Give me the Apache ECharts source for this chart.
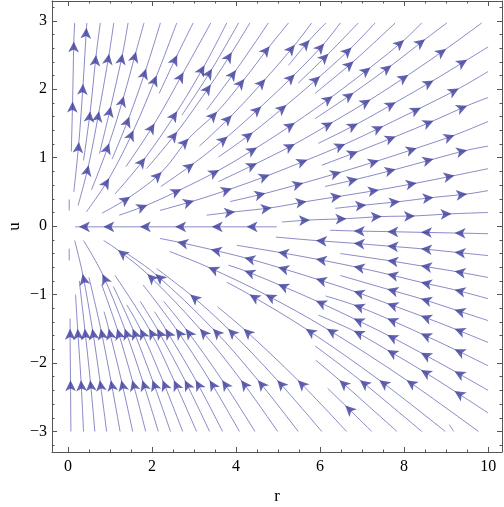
<!DOCTYPE html>
<html>
<head>
<meta charset="utf-8">
<script src="https://cdn.jsdelivr.net/npm/echarts@6/dist/echarts.min.js"></script>
<style>
  html, body { margin: 0; padding: 0; background: #fff; }
  #chart { width: 504px; height: 507px; }
</style>
</head>
<body>
<div id="chart"></div>
<script>
// 刻度
const xMajor = [0, 2, 4, 6, 8, 10];
const xMinor = [0.5, 1, 1.5, 2.5, 3, 3.5, 4.5, 5, 5.5, 6.5, 7, 7.5, 8.5, 9, 9.5];
const yMajor = [-3, -2, -1, 0, 1, 2, 3];
const yMinor = [-3.2, -2.8, -2.6, -2.4, -2.2, -1.8, -1.6, -1.4, -1.2, -0.8, -0.6, -0.4, -0.2,
                0.2, 0.4, 0.6, 0.8, 1.2, 1.4, 1.6, 1.8, 2.2, 2.4, 2.6, 2.8, 3.2];

// 上半平面流线 [r, u]，按流动方向排列
const upperLines = [
  [[0.03, 0.23], [0.03, 0.39]],
  [[0.08, 1.09], [0.11, 1.82], [0.14, 2.7], [0.16, 2.97]],
  [[0.14, 0.50], [0.26, 1.23], [0.36, 2.08], [0.44, 2.9], [0.45, 2.97]],
  [[0.37, 0.96], [0.53, 1.68], [0.67, 2.5], [0.77, 2.97]],
  [[0.24, 0.30], [0.49, 0.89], [0.74, 1.68], [0.98, 2.52], [1.09, 2.97]],
  [[0.75, 1.06], [1.02, 1.75], [1.30, 2.52], [1.43, 2.97]],
  [[0.56, 0.53], [0.98, 1.21], [1.33, 1.9], [1.62, 2.55], [1.81, 2.97]],
  [[1.05, 0.98], [1.46, 1.6], [1.86, 2.3], [2.20, 2.97]],
  [[0.44, 0.21], [0.98, 0.70], [1.56, 1.4], [2.11, 2.2], [2.59, 2.97]],
  [[2.17, 1.94], [2.6, 2.5], [2.98, 2.97]],
  [[1.38, 0.87], [2.06, 1.5], [2.75, 2.25], [3.40, 2.97]],
  [[1.12, 0.47], [1.84, 1.0], [2.6, 1.68], [3.25, 2.35], [3.78, 2.97]],
  [[2.71, 1.62], [3.43, 2.3], [4.06, 2.97]],
  [[1.87, 0.84], [2.6, 1.38], [3.4, 2.07], [3.9, 2.54], [4.33, 2.97]],
  [[3.3, 1.7], [4.0, 2.28], [4.77, 2.97]],
  [[0.81, 0.19], [1.48, 0.43], [2.23, 0.79], [2.87, 1.28], [3.55, 1.67], [4.2, 2.15], [4.8, 2.63], [5.25, 2.97]],
  [[3.13, 1.17], [3.9, 1.62], [4.7, 2.15], [5.4, 2.65], [5.80, 2.97]],
  [[5.25, 2.35], [5.75, 2.72], [6.14, 2.97]],
  [[2.21, 0.58], [3.0, 0.92], [3.8, 1.31], [4.6, 1.75], [5.4, 2.22], [6.1, 2.67], [6.48, 2.97]],
  [[5.48, 2.09], [6.2, 2.52], [6.91, 2.97]],
  [[3.58, 1.01], [4.4, 1.37], [5.2, 1.77], [6.0, 2.19], [6.75, 2.61], [7.31, 2.97]],
  [[5.88, 1.94], [6.8, 2.41], [7.79, 2.97]],
  [[1.22, 0.16], [1.89, 0.31], [2.70, 0.54], [3.6, 0.82], [4.5, 1.15], [5.4, 1.51], [6.3, 1.90], [7.2, 2.32], [8.0, 2.72], [8.42, 2.97]],
  [[5.88, 1.57], [6.8, 1.95], [7.7, 2.35], [8.5, 2.73], [9.02, 2.97]],
  [[3.58, 0.65], [4.5, 0.92], [5.4, 1.20], [6.3, 1.52], [7.2, 1.85], [8.1, 2.21], [9.0, 2.59], [9.85, 2.97]],
  [[5.96, 1.21], [6.9, 1.50], [7.8, 1.81], [8.7, 2.13], [9.5, 2.43], [10, 2.62]],
  [[2.19, 0.23], [3.0, 0.37], [3.9, 0.55], [4.8, 0.75], [5.7, 0.97], [6.6, 1.20], [7.5, 1.46], [8.4, 1.73], [9.3, 2.01], [10, 2.26]],
  [[6.04, 0.89], [6.9, 1.09], [7.8, 1.31], [8.7, 1.54], [9.5, 1.76], [10, 1.88]],
  [[3.86, 0.36], [4.7, 0.48], [5.6, 0.63], [6.5, 0.79], [7.4, 0.96], [8.3, 1.14], [9.2, 1.33], [10, 1.53]],
  [[6.12, 0.58], [6.9, 0.69], [7.8, 0.83], [8.7, 0.98], [9.5, 1.11], [10, 1.17]],
  [[3.30, 0.16], [3.98, 0.21], [4.85, 0.27], [5.68, 0.36], [6.51, 0.44], [7.4, 0.53], [8.3, 0.63], [9.2, 0.74], [10, 0.84]],
  [[6.36, 0.26], [7.1, 0.31], [7.9, 0.36], [8.7, 0.42], [9.5, 0.47], [10, 0.52]],
  [[5.09, 0.06], [5.76, 0.09], [6.63, 0.11], [7.47, 0.14], [8.26, 0.15], [9.13, 0.18], [10, 0.20]]
];

// u = 0 附近与下半平面流线
const lowerLines = [
  [[4.97, -0.01], [4.25, -0.01], [3.42, -0.01], [2.55, -0.01], [1.71, -0.01], [0.84, -0.01], [0.26, -0.01], [0.17, -0.01]],
  [[0.03, -0.50], [0.03, -0.33]],
  [[10, -0.11], [9.2, -0.10], [8.4, -0.09], [7.6, -0.08], [6.8, -0.07], [6.24, -0.06]],
  [[10, -0.43], [9.2, -0.38], [8.4, -0.33], [7.6, -0.29], [6.8, -0.25], [5.9, -0.21], [4.95, -0.16]],
  [[10, -0.75], [9.2, -0.66], [8.4, -0.58], [7.6, -0.50], [6.48, -0.40]],
  [[10, -1.06], [9.2, -0.93], [8.4, -0.82], [7.6, -0.70], [6.8, -0.59], [5.9, -0.48], [5.0, -0.38], [4.02, -0.28]],
  [[10, -1.38], [9.2, -1.22], [8.4, -1.06], [7.6, -0.92], [6.48, -0.72]],
  [[10, -1.70], [9.2, -1.50], [8.4, -1.31], [7.6, -1.13], [6.8, -0.95], [5.9, -0.77], [5.0, -0.60], [4.2, -0.46], [3.4, -0.34], [2.6, -0.23], [2.19, -0.18]],
  [[10, -2.04], [9.2, -1.80], [8.4, -1.57], [7.6, -1.35], [6.8, -1.15], [6.13, -1.02]],
  [[10, -2.40], [9.2, -2.12], [8.4, -1.85], [7.6, -1.59], [6.8, -1.35], [5.9, -1.09], [5.0, -0.85], [4.2, -0.65], [3.82, -0.57]],
  [[10, -2.73], [9.2, -2.41], [8.4, -2.10], [7.6, -1.81], [6.8, -1.53], [5.96, -1.30]],
  [[0.07, -3], [0.06, -2.25], [0.05, -1.5], [0.05, -1.35]],
  [[0.37, -3], [0.31, -2.25], [0.23, -1.5], [0.18, -1.0]],
  [[0.64, -3], [0.53, -2.25], [0.40, -1.5], [0.27, -0.8]],
  [[0.92, -3], [0.76, -2.25], [0.58, -1.5], [0.35, -0.7], [0.16, -0.21]],
  [[1.24, -3], [1.02, -2.25], [0.78, -1.5], [0.50, -0.75]],
  [[1.54, -3], [1.27, -2.25], [0.97, -1.5], [0.86, -1.25]],
  [[1.85, -3], [1.53, -2.25], [1.17, -1.5], [0.80, -0.85]],
  [[2.15, -3], [1.77, -2.25], [1.35, -1.5], [0.82, -0.7], [0.37, -0.21]],
  [[2.44, -3], [2.01, -2.25], [1.54, -1.5], [1.08, -0.88]],
  [[2.73, -3], [2.25, -2.25], [1.72, -1.5], [1.40, -1.15]],
  [[3.06, -3], [2.52, -2.25], [1.93, -1.5], [1.12, -0.72]],
  [[3.37, -3], [2.78, -2.25], [2.12, -1.5], [1.72, -1.1]],
  [[3.68, -3], [3.04, -2.25], [2.32, -1.5], [2.06, -1.25]],
  [[4.08, -3], [3.37, -2.25], [2.57, -1.5], [1.79, -0.86]],
  [[4.45, -3], [3.67, -2.25], [2.80, -1.5], [2.28, -1.1]],
  [[4.99, -3], [4.12, -2.25], [3.14, -1.5], [1.89, -0.7], [1.19, -0.35], [0.85, -0.21]],
  [[5.48, -3], [4.52, -2.25], [3.45, -1.5], [2.08, -0.7], [1.40, -0.40]],
  [[6.04, -3], [4.98, -2.25], [3.81, -1.5], [2.91, -1.0], [2.11, -0.62]],
  [[6.63, -3], [5.47, -2.25], [4.18, -1.5], [3.56, -1.18]],
  [[7.23, -3], [6.6, -2.62], [6.18, -2.37]],
  [[7.83, -3], [6.46, -2.25], [5.9, -1.96]],
  [[8.42, -3], [6.95, -2.25], [5.88, -1.75]],
  [[8.98, -3], [7.41, -2.25], [5.66, -1.5], [4.32, -1.0], [3.78, -0.82]],
  [[9.77, -3], [8.06, -2.25], [6.16, -1.5], [4.70, -1.0], [3.34, -0.6], [2.42, -0.37]],
  [[9.18, -3.0], [9.08, -2.9]]
];

const lineColor = 'rgba(70, 70, 165, 0.75)';
const arrowColor = '#3c3c9c';
const frameColor = '#555';
const serif = 'Liberation Serif';

const myChart = echarts.init(document.getElementById('chart'));
const allLines = upperLines.concat(lowerLines);

function minusFmt(v) {
  return v < 0 ? '\u2212' + (-v) : String(v);
}

function xAxisCfg(pos, ticks, len, withLine, withLabel) {
  return {
    type: 'value', position: pos, min: -0.38, max: 10.33,
    axisLine: { show: withLine, onZero: false, lineStyle: { color: frameColor, width: 1 } },
    axisTick: { show: true, inside: true, length: len, customValues: ticks, lineStyle: { color: frameColor } },
    axisLabel: withLabel
      ? { show: true, customValues: ticks, color: '#000', fontFamily: serif, fontSize: 16, margin: 7 }
      : { show: false },
    splitLine: { show: false }
  };
}

function yAxisCfg(pos, ticks, len, withLine, withLabel) {
  return {
    type: 'value', position: pos, min: -3.30, max: 3.29,
    axisLine: { show: withLine, onZero: false, lineStyle: { color: frameColor, width: 1 } },
    axisTick: { show: true, inside: true, length: len, customValues: ticks, lineStyle: { color: frameColor } },
    axisLabel: withLabel
      ? { show: true, customValues: ticks, color: '#000', fontFamily: serif, fontSize: 16, margin: 5, formatter: minusFmt }
      : { show: false },
    splitLine: { show: false }
  };
}

const xMain = xAxisCfg('bottom', xMajor, 5, true, true);
xMain.name = 'r';
xMain.nameLocation = 'middle';
xMain.nameGap = 36;
xMain.nameMoveOverlap = false;
xMain.nameTextStyle = { fontFamily: serif, fontSize: 17, color: '#000' };

const yMain = yAxisCfg('left', yMajor, 5, true, true);
yMain.name = 'u';
yMain.nameLocation = 'middle';
yMain.nameGap = 29;
yMain.nameRotate = 90;
yMain.nameMoveOverlap = false;
yMain.nameTextStyle = { fontFamily: serif, fontSize: 17, color: '#000' };

const option = {
  animation: false,
  backgroundColor: '#fff',
  grid: { left: 52, right: 2, top: 1, bottom: 55, containLabel: false, outerBoundsMode: 'none' },
  xAxis: [
    xMain,
    xAxisCfg('bottom', xMinor, 2.5, false, false),
    xAxisCfg('top', xMajor, 5, true, false),
    xAxisCfg('top', xMinor, 2.5, false, false)
  ],
  yAxis: [
    yMain,
    yAxisCfg('left', yMinor, 2.5, false, false),
    yAxisCfg('right', yMajor, 5, true, false),
    yAxisCfg('right', yMinor, 2.5, false, false)
  ],
  series: allLines.map(pts => ({
    type: 'line',
    data: pts,
    smooth: 0.35,
    showSymbol: false,
    symbol: 'none',
    silent: true,
    lineStyle: { color: lineColor, width: 0.85 },
    z: 2
  }))
};

myChart.setOption(option);

// 箭头：放在每条流线的内部采样点上，方向取相邻点的像素方向
const arrowData = [];
allLines.forEach(pts => {
  for (let i = 1; i < pts.length - 1; i++) {
    const a = myChart.convertToPixel({ seriesIndex: 0 }, pts[i - 1]);
    const b = myChart.convertToPixel({ seriesIndex: 0 }, pts[i + 1]);
    const ang = Math.atan2(-(b[1] - a[1]), b[0] - a[0]) * 180 / Math.PI - 90;
    arrowData.push({ value: pts[i], symbolRotate: ang });
  }
});

myChart.setOption({
  series: option.series.concat([{
    type: 'scatter',
    data: arrowData,
    symbol: 'arrow',
    symbolSize: [8, 11],
    silent: true,
    itemStyle: { color: arrowColor },
    z: 3
  }])
});
</script>
</body>
</html>
